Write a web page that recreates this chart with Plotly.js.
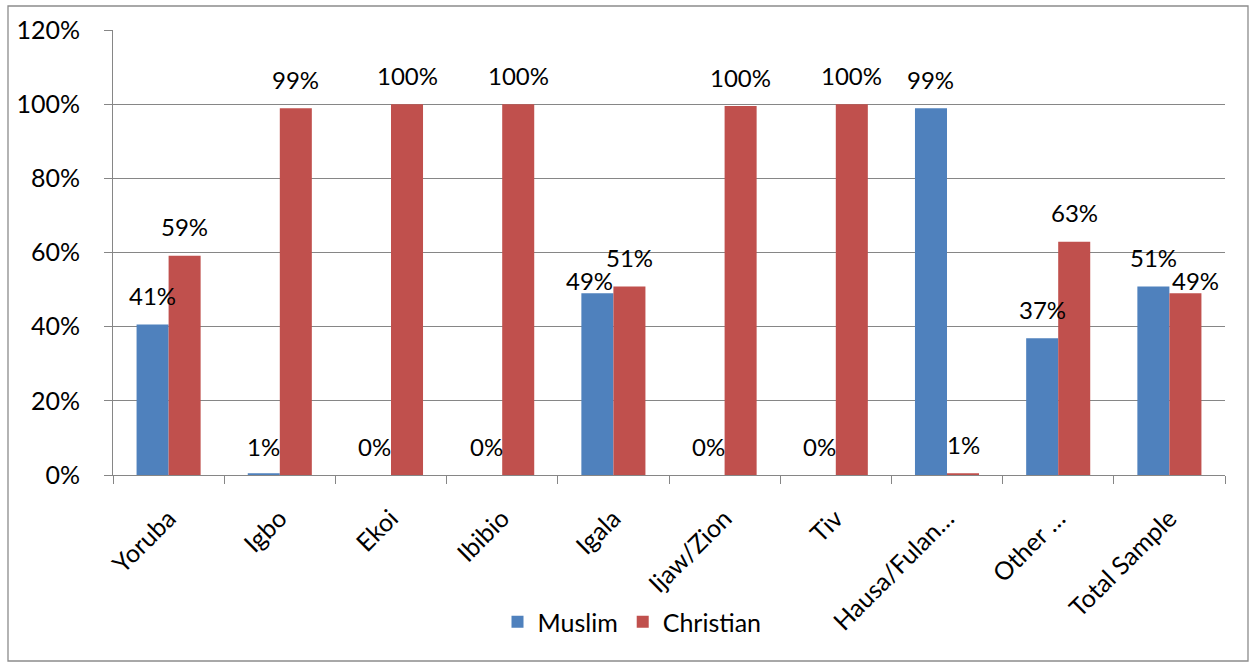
<!DOCTYPE html>
<html>
<head>
<meta charset="utf-8">
<script src="https://cdn.plot.ly/plotly-3.0.1.min.js"></script>
<style>
  html, body { margin: 0; padding: 0; background: #ffffff; }
  #chart { width: 1250px; height: 662px; }
</style>
</head>
<body>
<div id="chart"></div>
<script>
// Religious affiliation by ethnic group (percent of respondents)
const categories = ['Yoruba', 'Igbo', 'Ekoi', 'Ibibio', 'Igala', 'Ijaw/Zion', 'Tiv', 'Hausa/Fulan\u2026', 'Other \u2026', 'Total Sample'];
const muslim    = [40.6, 0.5, 0, 0, 49.0, 0, 0, 98.9, 36.9, 50.8];
const christian = [59.1, 98.9, 100, 100, 50.8, 99.5, 100, 0.5, 62.9, 49.0];

// Per-label nudges (pixels) for the value labels: [dx, dy above bar top]
const muslimNudge    = [[0,29],[0,27],[0,29],[0,29],[-8,13],[0,29],[0,29],[0,29],[0,29],[0,29]];
const christianNudge = [[0,29],[0,29],[0,29],[0,29],[0,29],[0,29],[0,29],[0,29],[0,29],[10,13]];

const BLUE = '#4F81BD';
const RED = '#C0504D';
const GRID = '#868686';
const FONT = 'Lato, "Liberation Sans", sans-serif';

const margin = { l: 113, r: 25, t: 30, b: 187 };
const plotW = 1250 - margin.l - margin.r;
const bargap = 0.424;
const barPx = plotW / categories.length * (1 - bargap) / 2;

const pct = v => Math.round(v) + '%';

const traces = [
  { type: 'bar', name: 'Muslim', x: categories, y: muslim, marker: { color: BLUE }, hoverinfo: 'x+y' },
  { type: 'bar', name: 'Christian', x: categories, y: christian, marker: { color: RED }, hoverinfo: 'x+y' }
];

const annotations = [];
[[muslim, muslimNudge, -1], [christian, christianNudge, 1]].forEach(([vals, nudge, side]) => {
  vals.forEach((v, i) => {
    annotations.push({
      x: categories[i], y: v, xref: 'x', yref: 'y',
      text: pct(v), showarrow: false,
      xanchor: 'center', yanchor: 'middle',
      xshift: side * barPx / 2 + nudge[i][0],
      yshift: nudge[i][1],
      font: { family: FONT, size: 24, color: '#000000' }
    });
  });
});

// chart-area frame
const px2x = p => (p - margin.l) / plotW;
const py2y = p => (475 - p) / 445;
const shapes = [{
  type: 'rect', xref: 'paper', yref: 'paper',
  x0: px2x(8), x1: px2x(1248), y0: py2y(661), y1: py2y(6),
  line: { color: '#8c8c8c', width: 1.3 }, fillcolor: 'rgba(0,0,0,0)', layer: 'below'
}];

const layout = {
  width: 1250, height: 662,
  margin: margin,
  paper_bgcolor: '#ffffff', plot_bgcolor: '#ffffff',
  barmode: 'group', bargap: bargap, bargroupgap: 0,
  font: { family: FONT, size: 24, color: '#000000' },
  showlegend: true,
  legend: {
    orientation: 'h', x: px2x(632), y: py2y(622), xanchor: 'center', yanchor: 'middle',
    font: { family: FONT, size: 25, color: '#000000' },
    itemwidth: 30, tracegroupgap: 0, bgcolor: 'rgba(0,0,0,0)'
  },
  xaxis: {
    type: 'category', tickangle: -45,
    showline: true, linecolor: GRID, linewidth: 1,
    ticks: 'outside', ticklen: 8, tickcolor: GRID, tickson: 'boundaries',
    ticklabelstandoff: 18,
    showgrid: false, zeroline: false,
    tickfont: { family: FONT, size: 25, color: '#000000' }
  },
  yaxis: {
    range: [0, 120], dtick: 20, ticksuffix: '%',
    showline: true, linecolor: GRID, linewidth: 1,
    ticks: 'outside', ticklen: 8, tickcolor: GRID,
    ticklabelstandoff: 19,
    showgrid: true, gridcolor: GRID, gridwidth: 1, zeroline: false,
    tickfont: { family: FONT, size: 25, color: '#000000' }
  },
  annotations: annotations,
  shapes: shapes
};

Plotly.newPlot('chart', traces, layout, { displayModeBar: false, staticPlot: true });
</script>
</body>
</html>
